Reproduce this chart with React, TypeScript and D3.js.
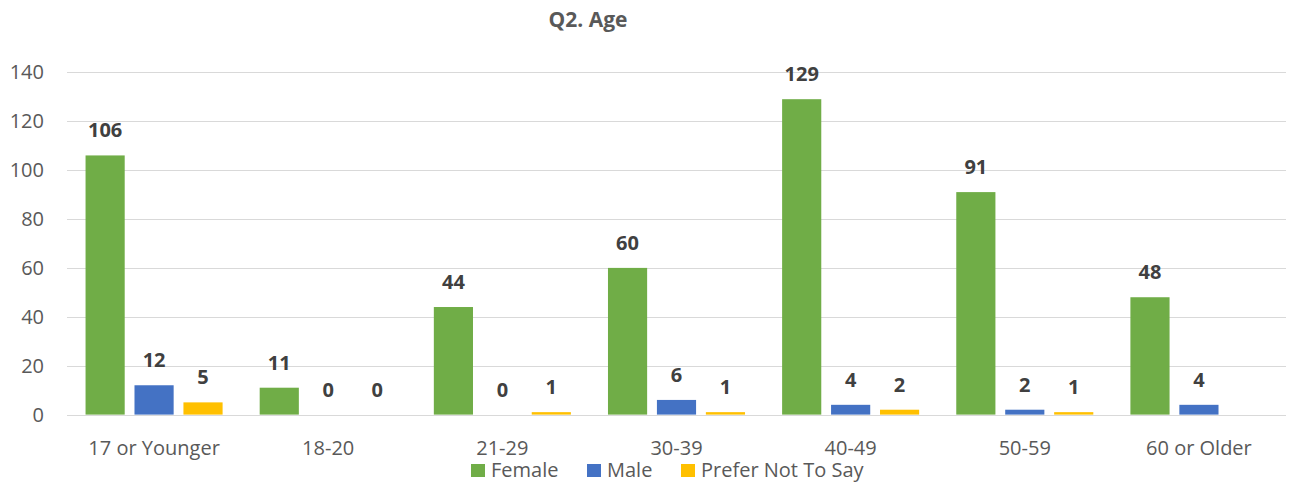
import React from "react";
import * as d3 from "d3";

const categories = ["17 or Younger", "18-20", "21-29", "30-39", "40-49", "50-59", "60 or Older"];
const seriesNames = ["Female", "Male", "Prefer Not To Say"];
const femaleValues: (number | null)[] = [106, 11, 44, 60, 129, 91, 48];
const maleValues: (number | null)[] = [12, 0, 0, 6, 4, 2, 4];
const preferValues: (number | null)[] = [5, 0, 1, 1, 2, 1, null];
const seriesColors = ["#70AD47", "#4472C4", "#FFC000"];
const yTicks = [0, 20, 40, 60, 80, 100, 120, 140];
const titleText = "Q2. Age";

const W = 1295;
const H = 484;
const FONT = "'Open Sans', 'Noto Sans', sans-serif";

export default function App() {
  const seriesValues = [femaleValues, maleValues, preferValues];
  const left = 67;
  const right = 1286;
  const y = d3.scaleLinear().domain([0, 140]).range([414.6, 72.3]);
  const x0 = d3
    .scaleBand<string>()
    .domain(categories)
    .range([left, right])
    .paddingInner(0.213)
    .paddingOuter(0.1065);
  const x1 = d3
    .scaleBand<string>()
    .domain(seriesNames)
    .range([0, x0.bandwidth()])
    .paddingInner(0.2)
    .paddingOuter(0);

  // legend layout
  const legendItems = [
    { name: seriesNames[0], x: 471 },
    { name: seriesNames[1], x: 587 },
    { name: seriesNames[2], x: 681 },
  ];

  return (
    <svg
      width={W}
      height={H}
      style={{ position: "absolute", left: 0, top: 0, background: "#fff" }}
      fontFamily={FONT}
    >
      <rect x={0} y={0} width={W} height={H} fill="#fff" />
      <text x={588} y={27} textAnchor="middle" fontSize={21} fontWeight="bold" fill="#595959">
        {titleText}
      </text>
      {yTicks.map((t) => (
        <g key={t}>
          <line x1={left} x2={right} y1={Math.round(y(t)) + 0.5} y2={Math.round(y(t)) + 0.5} stroke="#D9D9D9" strokeWidth={1.2} />
          <text x={44} y={y(t)} dy="0.35em" textAnchor="end" fontSize={20} fill="#595959">
            {t}
          </text>
        </g>
      ))}
      {categories.map((c, ci) => (
        <g key={c}>
          {seriesNames.map((s, si) => {
            const v = seriesValues[si][ci];
            if (v === null || v === undefined) return null;
            const bx = (x0(c) as number) + (x1(s) as number);
            const bw = x1.bandwidth();
            return (
              <g key={s}>
                <rect x={bx} y={y(v)} width={bw} height={y(0) - y(v)} fill={seriesColors[si]} />
                <text
                  x={bx + bw / 2}
                  y={y(v) - 18}
                  textAnchor="middle"
                  fontSize={20}
                  fontWeight="bold"
                  fill="#404040"
                >
                  {v}
                </text>
              </g>
            );
          })}
          <text
            x={(x0(c) as number) + x0.bandwidth() / 2}
            y={455}
            textAnchor="middle"
            fontSize={20}
            fill="#595959"
          >
            {c}
          </text>
        </g>
      ))}
      {legendItems.map((li, i) => (
        <g key={li.name}>
          <rect x={li.x} y={464} width={14} height={13} fill={seriesColors[i]} />
          <text x={li.x + 20} y={477} fontSize={20} fill="#595959">
            {li.name}
          </text>
        </g>
      ))}
    </svg>
  );
}
